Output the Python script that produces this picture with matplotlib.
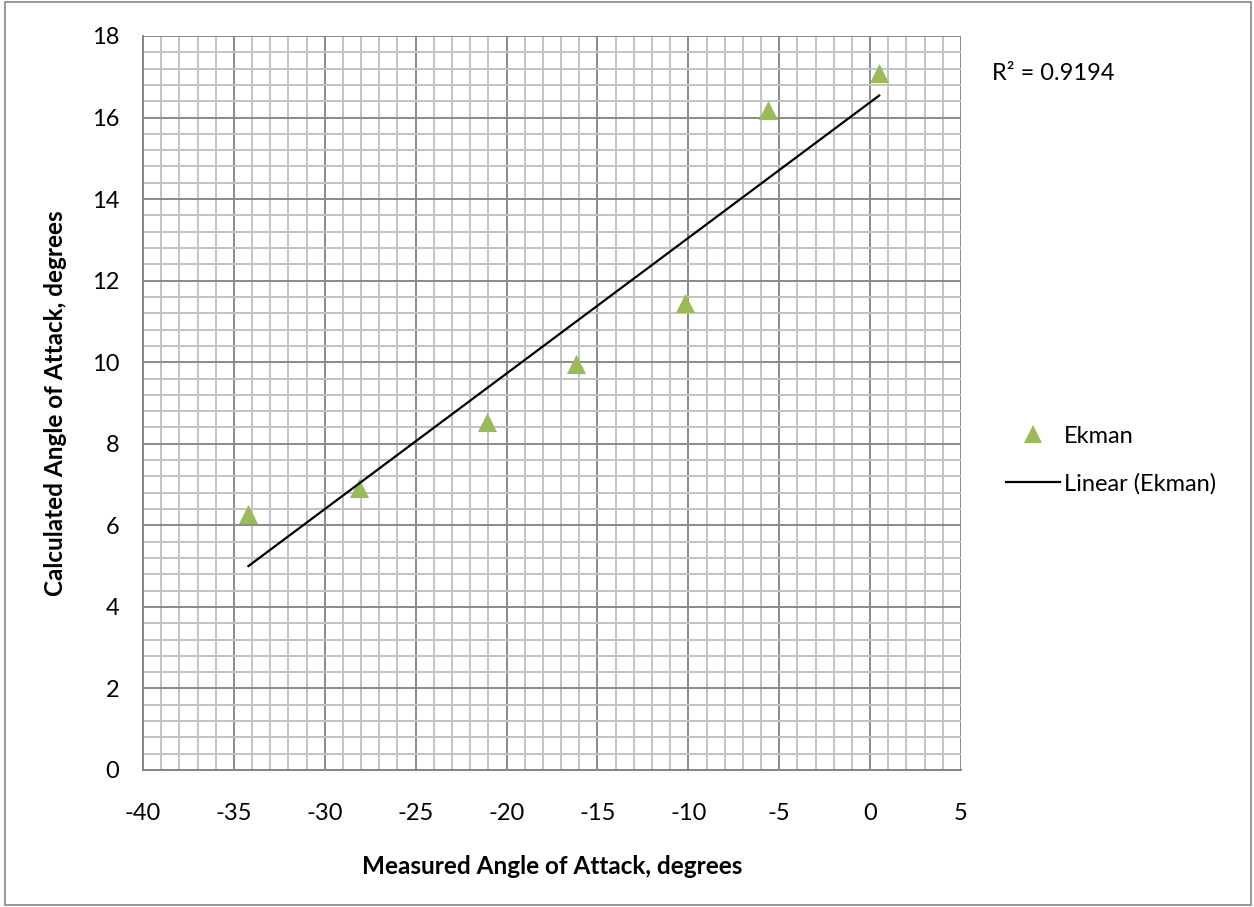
import numpy as np
import matplotlib
matplotlib.use("Agg")
import matplotlib.pyplot as plt
from matplotlib.ticker import MultipleLocator
from matplotlib.lines import Line2D

plt.rcParams['font.family'] = ['Lato', 'DejaVu Sans']
plt.rcParams['axes.unicode_minus'] = False

# data
measured = [-34.2, -28.1, -21.1, -16.2, -10.2, -5.6, 0.5]
calculated = [6.28, 6.92, 8.53, 9.96, 11.45, 16.18, 17.09]
r2_label = "R² = 0.9194"
series_name = "Ekman"

fig = plt.figure(figsize=(12.54, 9.07), dpi=100)
# plot area: x 143..961 px, y 36..770 px
ax = fig.add_axes([143 / 1254, 1 - 770 / 907, 818 / 1254, 734 / 907])

# gridlines
ax.set_xlim(-40, 5)
ax.set_ylim(0, 18)
ax.xaxis.set_major_locator(MultipleLocator(5))
ax.xaxis.set_minor_locator(MultipleLocator(1))
ax.yaxis.set_major_locator(MultipleLocator(2))
ax.yaxis.set_minor_locator(MultipleLocator(0.4))
ax.grid(which='minor', color='#c3c3c3', linewidth=1.4)
ax.grid(which='major', color='#8a8a8a', linewidth=1.4)
ax.set_axisbelow(True)
ax.tick_params(which='both', length=0, labelsize=17)
ax.tick_params(axis='x', pad=24)
ax.tick_params(axis='y', pad=17)

for side in ['top', 'right']:
    ax.spines[side].set_visible(False)
for side in ['left', 'bottom']:
    ax.spines[side].set_color('#868686')
    ax.spines[side].set_linewidth(1.4)

# points
ax.scatter(measured, calculated, marker='^', s=190, color='#9bbb59', zorder=3, linewidths=0)

# linear trend line
coef = np.polyfit(measured, calculated, 1)
xs = np.array([min(measured), max(measured)])
ax.plot(xs, np.polyval(coef, xs), color='black', linewidth=1.6, zorder=4)

ax.set_xlabel("Measured Angle of Attack, degrees", fontsize=17.5, fontweight='bold', labelpad=22)
ax.set_ylabel("Calculated Angle of Attack, degrees", fontsize=17.5, fontweight='bold', labelpad=18)

fig.text(992 / 1254, 1 - 74 / 907, r2_label, fontsize=17, va='center', ha='left')

handles = [
    Line2D([], [], marker='^', linestyle='none', color='#9bbb59', markersize=13, markeredgewidth=0),
    Line2D([], [], color='black', linewidth=1.6),
]
fig.legend(handles, [series_name, "Linear (" + series_name + ")"],
           loc='center left', bbox_to_anchor=(1006 / 1254, 1 - 460 / 907),
           frameon=False, fontsize=17, handlelength=2.3, handletextpad=0.15,
           labelspacing=1.1, borderaxespad=0, borderpad=0)

# outer chart border
fig.patches.append(plt.Rectangle((0.004, 0.002), 0.994, 0.996, transform=fig.transFigure,
                                 fill=False, edgecolor='#868686', linewidth=1.2))

fig.savefig("out.png", dpi=100)
